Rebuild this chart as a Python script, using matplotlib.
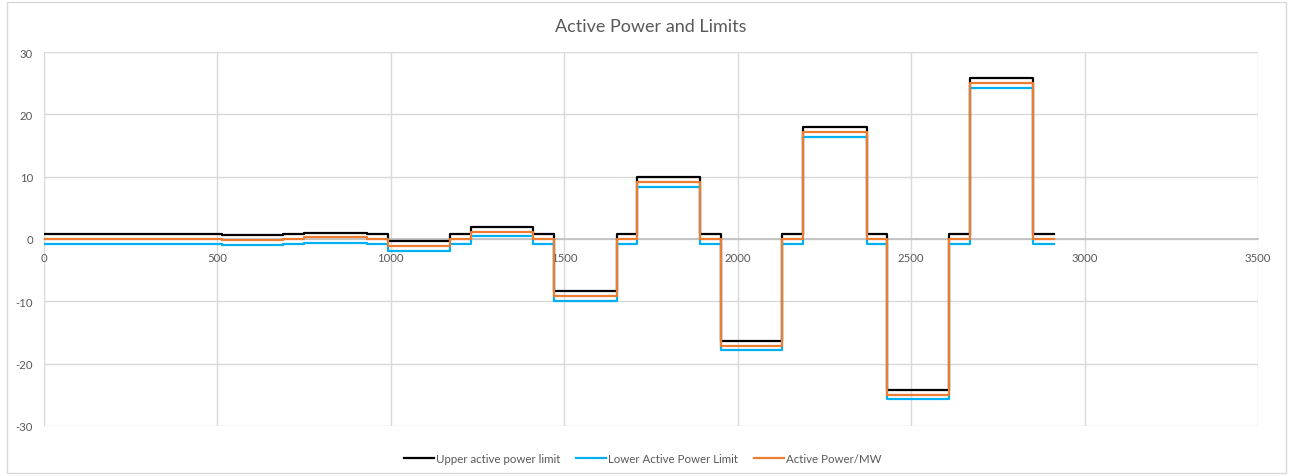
import matplotlib
matplotlib.use('Agg')
from matplotlib import pyplot as plt
from matplotlib.patches import Rectangle

# segment start times (s), last entry is the end of the final segment
seg_t = [0, 513, 689, 750, 931, 992, 1170, 1230, 1410, 1470, 1651, 1709,
         1891, 1951, 2129, 2189, 2372, 2431, 2610, 2670, 2850, 2911]
upper = [0.8, 0.6, 0.8, 0.9, 0.8, -0.4, 0.8, 2.0, 0.8, -8.4, 0.8, 9.9,
         0.8, -16.4, 0.8, 17.9, 0.8, -24.3, 0.8, 25.8, 0.8]
lower = [-0.8, -0.9, -0.8, -0.6, -0.8, -1.9, -0.8, 0.5, -0.8, -9.9, -0.8, 8.4,
         -0.8, -17.8, -0.8, 16.4, -0.8, -25.7, -0.8, 24.3, -0.8]
active = [0.0, -0.2, 0.0, 0.3, 0.0, -1.2, 0.0, 1.2, 0.0, -9.2, 0.0, 9.2,
          0.0, -17.1, 0.0, 17.1, 0.0, -25.0, 0.0, 25.1, 0.0]

x_ticks = [0, 500, 1000, 1500, 2000, 2500, 3000, 3500]
y_ticks = [-30, -20, -10, 0, 10, 20, 30]

plt.rcParams["font.family"] = ["Lato", "DejaVu Sans"]
plt.rcParams["font.size"] = 8.2
plt.rcParams["axes.unicode_minus"] = False

fig = plt.figure(figsize=(12.93, 4.77), dpi=100)
fig.patch.set_facecolor('white')
# outer chart border
fig.patches.append(Rectangle((7 / 1293, 3 / 477), 1279 / 1293, 471 / 477,
                             transform=fig.transFigure, fill=False,
                             edgecolor='#d9d9d9', linewidth=1))

ax = fig.add_axes([44 / 1293, 50 / 477, 1214 / 1293, 374 / 477])

# repeat last value so the final step has a width
def steps(v):
    return v + [v[-1]]

ax.step(seg_t, steps(upper), where='post', color='black', lw=1.6,
        label='Upper active power limit', zorder=3)
ax.step(seg_t, steps(lower), where='post', color='#00b0f0', lw=1.6,
        label='Lower Active Power Limit', zorder=3)
ax.step(seg_t, steps(active), where='post', color='#ed7d31', lw=1.6,
        label='Active Power/MW', zorder=4)

ax.set_xlim(0, 3500)
ax.set_ylim(-30, 30)
ax.set_xticks(x_ticks)
ax.set_yticks(y_ticks)
ax.grid(color='#d9d9d9', linewidth=1, zorder=0)
ax.set_axisbelow(True)

for s in ['top', 'right', 'left']:
    ax.spines[s].set_visible(False)
ax.spines['bottom'].set_position(('data', 0))
ax.spines['bottom'].set_color('#bfbfbf')
ax.spines['bottom'].set_linewidth(1.2)
ax.spines['bottom'].set_zorder(1)

ax.tick_params(axis='both', length=0, colors='#595959', labelsize=8.2)
ax.tick_params(axis='x', pad=9)
ax.tick_params(axis='y', pad=8)

ax.set_title('Active Power and Limits', fontsize=13, color='#595959', pad=15)

ax.legend(loc='upper center', bbox_to_anchor=(0.493, -0.045), ncol=3,
          frameon=False, fontsize=8.3, handlelength=2.6, columnspacing=1.4,
          handletextpad=0.15, labelcolor='#595959')

plt.savefig('out.png', dpi=100)
